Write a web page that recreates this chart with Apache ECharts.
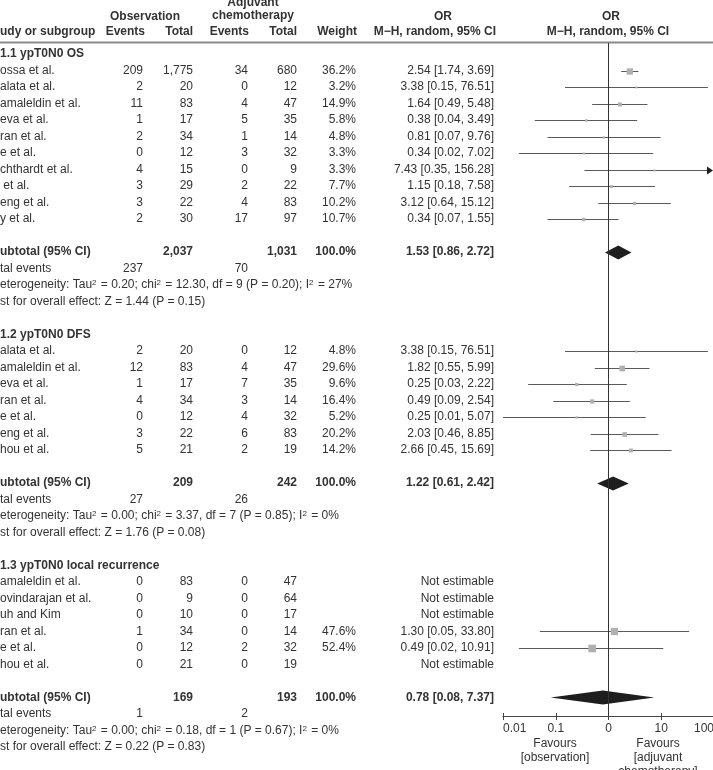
<!DOCTYPE html>
<html>
<head>
<meta charset="utf-8">
<script src="https://cdn.jsdelivr.net/npm/echarts@6/dist/echarts.min.js"></script>
<style>
html, body { margin: 0; padding: 0; background: #fff; }
#chart { width: 713px; height: 770px; }
</style>
</head>
<body>
<div id="chart"></div>
<script>
// ---- data ----
var groupTitles = ['1.1 ypT0N0 OS', '1.2 ypT0N0 DFS', '1.3 ypT0N0 local recurrence'];

var osNames      = ['ossa et al.', 'alata et al.', 'amaleldin et al.', 'eva et al.', 'ran et al.', 'e et al.', 'chthardt et al.', ' et al.', 'eng et al.', 'y et al.'];
var osObsEvents  = [209, 2, 11, 1, 2, 0, 4, 3, 3, 2];
var osObsTotal   = [1775, 20, 83, 17, 34, 12, 15, 29, 22, 30];
var osAdjEvents  = [34, 0, 4, 5, 1, 3, 0, 2, 4, 17];
var osAdjTotal   = [680, 12, 47, 35, 14, 32, 9, 22, 83, 97];
var osWeight     = [36.2, 3.2, 14.9, 5.8, 4.8, 3.3, 3.3, 7.7, 10.2, 10.7];
var osOR         = [2.54, 3.38, 1.64, 0.38, 0.81, 0.34, 7.43, 1.15, 3.12, 0.34];
var osLow        = [1.74, 0.15, 0.49, 0.04, 0.07, 0.02, 0.35, 0.18, 0.64, 0.07];
var osHigh       = [3.69, 76.51, 5.48, 3.49, 9.76, 7.02, 156.28, 7.58, 15.12, 1.55];
var osSubTotals  = [2037, 1031];
var osSubOR      = [1.53, 0.86, 2.72];
var osTotEvents  = [237, 70];
var osHet        = ['0.20', '12.30', '9', '0.20', '27'];
var osOverall    = ['1.44', '0.15'];

var dfsNames     = ['alata et al.', 'amaleldin et al.', 'eva et al.', 'ran et al.', 'e et al.', 'eng et al.', 'hou et al.'];
var dfsObsEvents = [2, 12, 1, 4, 0, 3, 5];
var dfsObsTotal  = [20, 83, 17, 34, 12, 22, 21];
var dfsAdjEvents = [0, 4, 7, 3, 4, 6, 2];
var dfsAdjTotal  = [12, 47, 35, 14, 32, 83, 19];
var dfsWeight    = [4.8, 29.6, 9.6, 16.4, 5.2, 20.2, 14.2];
var dfsOR        = [3.38, 1.82, 0.25, 0.49, 0.25, 2.03, 2.66];
var dfsLow       = [0.15, 0.55, 0.03, 0.09, 0.01, 0.46, 0.45];
var dfsHigh      = [76.51, 5.99, 2.22, 2.54, 5.07, 8.85, 15.69];
var dfsSubTotals = [209, 242];
var dfsSubOR     = [1.22, 0.61, 2.42];
var dfsTotEvents = [27, 26];
var dfsHet       = ['0.00', '3.37', '7', '0.85', '0'];
var dfsOverall   = ['1.76', '0.08'];

var lrNames      = ['amaleldin et al.', 'ovindarajan et al.', 'uh and Kim', 'ran et al.', 'e et al.', 'hou et al.'];
var lrObsEvents  = [0, 0, 0, 1, 0, 0];
var lrObsTotal   = [83, 9, 10, 34, 12, 21];
var lrAdjEvents  = [0, 0, 0, 0, 2, 0];
var lrAdjTotal   = [47, 64, 17, 14, 32, 19];
var lrWeight     = [null, null, null, 47.6, 52.4, null];
var lrOR         = [null, null, null, 1.30, 0.49, null];
var lrLow        = [null, null, null, 0.05, 0.02, null];
var lrHigh       = [null, null, null, 33.80, 10.91, null];
var lrSubTotals  = [169, 193];
var lrSubOR      = [0.78, 0.08, 7.37];
var lrTotEvents  = [1, 2];
var lrHet        = ['0.00', '0.18', '1', '0.67', '0'];
var lrOverall    = ['0.22', '0.83'];

var tickValues = [0.01, 0.1, 1, 10, 100];
var tickLabels = ['0.01', '0.1', '0', '10', '100'];

// ---- layout / style ----
var ROW_PITCH = 16.5, FIRST_ROW_Y = 54, GRID_TOP = 43, AXIS_Y = 716;
var PLOT_LEFT = 503, PLOT_WIDTH = 211;
var X_MIN = 0.01, X_MAX = 100;
var COL_X = { name: 0, obsEv: 143, obsTot: 193, adjEv: 248, adjTot: 297, weight: 356, or: 494 };
var FONT = '"Liberation Sans", Arial, Helvetica, sans-serif';
var TEXT_COLOR = '#333';
var CI_COLOR = '#5a5a5a';
var SQUARE_COLOR = '#b0b0b0';
var DIAMOND_COLOR = '#1e1e1e';

var groups = [
    { title: groupTitles[0], names: osNames, obsEv: osObsEvents, obsTot: osObsTotal, adjEv: osAdjEvents, adjTot: osAdjTotal,
      weight: osWeight, or: osOR, lo: osLow, hi: osHigh, subTot: osSubTotals, subOR: osSubOR, totEv: osTotEvents, het: osHet, overall: osOverall },
    { title: groupTitles[1], names: dfsNames, obsEv: dfsObsEvents, obsTot: dfsObsTotal, adjEv: dfsAdjEvents, adjTot: dfsAdjTotal,
      weight: dfsWeight, or: dfsOR, lo: dfsLow, hi: dfsHigh, subTot: dfsSubTotals, subOR: dfsSubOR, totEv: dfsTotEvents, het: dfsHet, overall: dfsOverall },
    { title: groupTitles[2], names: lrNames, obsEv: lrObsEvents, obsTot: lrObsTotal, adjEv: lrAdjEvents, adjTot: lrAdjTotal,
      weight: lrWeight, or: lrOR, lo: lrLow, hi: lrHigh, subTot: lrSubTotals, subOR: lrSubOR, totEv: lrTotEvents, het: lrHet, overall: lrOverall }
];

// build rows
var tableRows = [];
var forestRows = [];
var r = 0;
groups.forEach(function (g) {
    tableRows.push({ row: r, kind: 'title', g: g }); r++;
    g.names.forEach(function (n, i) {
        tableRows.push({ row: r, kind: 'study', g: g, i: i });
        if (g.or[i] != null) {
            forestRows.push([g.or[i], r, g.lo[i], g.hi[i], g.weight[i], 0]);
        }
        r++;
    });
    r++;
    tableRows.push({ row: r, kind: 'subtotal', g: g });
    forestRows.push([g.subOR[0], r, g.subOR[1], g.subOR[2], 100, 1]);
    r++;
    tableRows.push({ row: r, kind: 'events', g: g }); r++;
    tableRows.push({ row: r, kind: 'het', g: g }); r++;
    tableRows.push({ row: r, kind: 'test', g: g }); r++;
    r++;
});

var Y_MIN = (GRID_TOP - FIRST_ROW_Y) / ROW_PITCH;
var Y_MAX = (AXIS_Y - FIRST_ROW_Y) / ROW_PITCH;

function fmtInt(v) { return v.toLocaleString('en-US'); }
function fmtCI(a) { return a[0].toFixed(2) + ' [' + a[1].toFixed(2) + ', ' + a[2].toFixed(2) + ']'; }

var RICH = {
    s: { fontSize: 8, fontFamily: FONT, fill: TEXT_COLOR, verticalAlign: 'top', padding: [0, 1, 4, 0] }
};

function renderTable(params, api) {
    var d = tableRows[params.dataIndex];
    var g = d.g;
    var y = api.coord([1, d.row])[1];
    var out = [];
    function put(x, s, align, bold) {
        out.push({
            type: 'text',
            silent: true,
            style: {
                x: x, y: y, text: s, align: align, verticalAlign: 'middle',
                fontFamily: FONT, fontSize: 12, fontWeight: bold ? 'bold' : 'normal',
                fill: TEXT_COLOR, rich: RICH
            }
        });
    }
    if (d.kind === 'title') {
        put(COL_X.name, g.title, 'left', true);
    } else if (d.kind === 'study') {
        var i = d.i;
        put(COL_X.name, g.names[i], 'left', false);
        put(COL_X.obsEv, String(g.obsEv[i]), 'right', false);
        put(COL_X.obsTot, fmtInt(g.obsTot[i]), 'right', false);
        put(COL_X.adjEv, String(g.adjEv[i]), 'right', false);
        put(COL_X.adjTot, fmtInt(g.adjTot[i]), 'right', false);
        if (g.or[i] != null) {
            put(COL_X.weight, g.weight[i].toFixed(1) + '%', 'right', false);
            put(COL_X.or, fmtCI([g.or[i], g.lo[i], g.hi[i]]), 'right', false);
        } else {
            put(COL_X.or, 'Not estimable', 'right', false);
        }
    } else if (d.kind === 'subtotal') {
        put(COL_X.name, 'ubtotal (95% CI)', 'left', true);
        put(COL_X.obsTot, fmtInt(g.subTot[0]), 'right', true);
        put(COL_X.adjTot, fmtInt(g.subTot[1]), 'right', true);
        put(COL_X.weight, '100.0%', 'right', true);
        put(COL_X.or, fmtCI(g.subOR), 'right', true);
    } else if (d.kind === 'events') {
        put(COL_X.name, 'tal events', 'left', false);
        put(COL_X.obsEv, String(g.totEv[0]), 'right', false);
        put(COL_X.adjEv, String(g.totEv[1]), 'right', false);
    } else if (d.kind === 'het') {
        var h = g.het;
        put(COL_X.name, 'eterogeneity: Tau{s|2} = ' + h[0] + '; chi{s|2} = ' + h[1] + ', df = ' + h[2] +
            ' (P = ' + h[3] + '); I{s|2} = ' + h[4] + '%', 'left', false);
    } else if (d.kind === 'test') {
        put(COL_X.name, 'st for overall effect: Z = ' + g.overall[0] + ' (P = ' + g.overall[1] + ')', 'left', false);
    }
    return { type: 'group', children: out };
}

function renderForest(params, api) {
    var or = api.value(0), row = api.value(1), lo = api.value(2), hi = api.value(3), w = api.value(4), kind = api.value(5);
    var c = api.coord([or, row]);
    var y = Math.round(c[1]) + 0.5;
    var xLo = api.coord([Math.max(lo, X_MIN), row])[0];
    var xHi = api.coord([Math.min(hi, X_MAX), row])[0];
    if (kind === 1) {
        return {
            type: 'polygon',
            shape: { points: [[xLo, y], [c[0], y - 7], [xHi, y], [c[0], y + 7]] },
            style: { fill: DIAMOND_COLOR }
        };
    }
    var children = [];
    var lineEnd = xHi;
    if (hi > X_MAX) {
        lineEnd = xHi - 7;
        children.push({
            type: 'polygon',
            shape: { points: [[lineEnd, y - 4], [xHi - 1, y], [lineEnd, y + 4]] },
            style: { fill: DIAMOND_COLOR }
        });
    }
    children.push({
        type: 'line',
        shape: { x1: xLo, y1: y, x2: lineEnd, y2: y },
        style: { stroke: CI_COLOR, lineWidth: 1 }
    });
    var s = Math.max(2, Math.sqrt(w) * 1.05);
    children.push({
        type: 'rect',
        shape: { x: c[0] - s / 2, y: y - s / 2, width: s, height: s },
        style: { fill: SQUARE_COLOR }
    });
    return { type: 'group', children: children };
}

function axisLabelFor(v) {
    for (var k = 0; k < tickValues.length; k++) {
        if (Math.abs(Math.log10(v) - Math.log10(tickValues[k])) < 0.01) return tickLabels[k];
    }
    return '';
}

var headerText = function (x, y, s, align) {
    return {
        type: 'text', silent: true,
        style: { x: x, y: y, text: s, align: align, verticalAlign: 'middle', fontFamily: FONT, fontSize: 12, fontWeight: 'bold', fill: TEXT_COLOR }
    };
};
var plainText = function (x, y, s) {
    return {
        type: 'text', silent: true,
        style: { x: x, y: y, text: s, align: 'center', verticalAlign: 'top', lineHeight: 14, fontFamily: FONT, fontSize: 12, fill: TEXT_COLOR }
    };
};

var chart = echarts.init(document.getElementById('chart'), null, { renderer: 'canvas' });

var option = {
    animation: false,
    backgroundColor: '#fff',
    grid: {
        left: PLOT_LEFT, top: GRID_TOP, width: PLOT_WIDTH, height: AXIS_Y - GRID_TOP,
        containLabel: false, outerBoundsMode: 'none'
    },
    xAxis: [
        {
            type: 'log', logBase: 10, min: X_MIN, max: X_MAX, position: 'bottom',
            axisLine: { show: true, onZero: false, lineStyle: { color: '#444', width: 1 } },
            axisTick: { show: true, inside: false, length: 4, lineStyle: { color: '#444' } },
            axisLabel: {
                show: true, margin: 7, color: TEXT_COLOR, fontFamily: FONT, fontSize: 12,
                alignMinLabel: 'left', alignMaxLabel: 'right',
                formatter: axisLabelFor
            },
            splitLine: { show: false },
            minorTick: { show: false }
        },
        {
            type: 'log', logBase: 10, min: X_MIN, max: X_MAX, position: 'bottom',
            axisLine: { show: false, onZero: false },
            axisTick: { show: true, inside: true, length: 3, lineStyle: { color: '#444' } },
            axisLabel: { show: false },
            splitLine: { show: false }
        }
    ],
    yAxis: {
        type: 'value', min: Y_MIN, max: Y_MAX, inverse: true, show: false
    },
    graphic: [
        headerText(253, 3, 'Adjuvant', 'center'),
        headerText(145, 17, 'Observation', 'center'),
        headerText(253, 16, 'chemotherapy', 'center'),
        headerText(443, 17, 'OR', 'center'),
        headerText(611, 17, 'OR', 'center'),
        headerText(0, 32, 'udy or subgroup', 'left'),
        headerText(145, 32, 'Events', 'right'),
        headerText(193, 32, 'Total', 'right'),
        headerText(249, 32, 'Events', 'right'),
        headerText(297, 32, 'Total', 'right'),
        headerText(357, 32, 'Weight', 'right'),
        headerText(496, 32, 'M\u2212H, random, 95% CI', 'right'),
        headerText(608, 32, 'M\u2212H, random, 95% CI', 'center'),
        {
            type: 'line', silent: true,
            shape: { x1: 0, y1: 42.5, x2: 713, y2: 42.5 },
            style: { stroke: '#8a8a8a', lineWidth: 2 }
        },
        plainText(555, 737, 'Favours\n[observation]'),
        plainText(658, 737, 'Favours\n[adjuvant\nchemotherapy]')
    ],
    series: [
        {
            type: 'custom',
            name: 'table',
            silent: true,
            clip: false,
            renderItem: renderTable,
            data: tableRows.map(function (d) { return [1, d.row]; }),
            z: 5
        },
        {
            type: 'line',
            name: 'ref',
            data: [],
            silent: true,
            markLine: {
                silent: true, symbol: 'none', animation: false,
                label: { show: false },
                lineStyle: { color: '#333', width: 1, type: 'solid' },
                data: [{ xAxis: 1 }]
            },
            z: 2
        },
        {
            type: 'custom',
            name: 'forest',
            silent: true,
            clip: false,
            renderItem: renderForest,
            data: forestRows,
            z: 3
        }
    ]
};

chart.setOption(option);
window.onresize = function () {
    chart.resize();
};
</script>
</body>
</html>
